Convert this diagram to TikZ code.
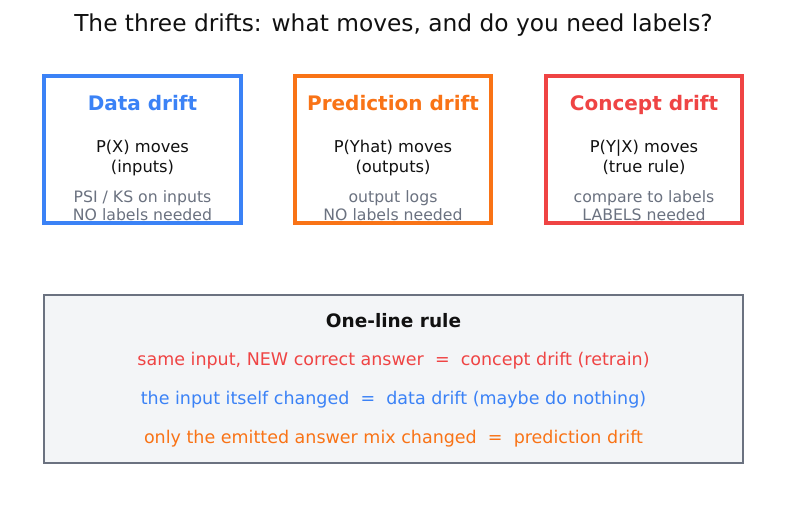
\documentclass[tikz,border=0pt]{standalone}
\usepackage{fontspec}
\setmainfont{DejaVu Sans}
\definecolor{cblue}{HTML}{3B82F6}
\definecolor{corange}{HTML}{F97316}
\definecolor{cred}{HTML}{EF4444}
\definecolor{cgray}{HTML}{6B7280}
\definecolor{cfill}{HTML}{F3F5F7}
\definecolor{ctext}{HTML}{111111}
\begin{document}
\begin{tikzpicture}[x=1pt,y=-1pt,
  every node/.style={text height=0.73em,text depth=0pt,inner sep=0pt},
  drbox/.style={draw=#1,line width=3.2pt,fill=white},
  boxtitle/.style={font=\bfseries\fontsize{20}{22}\selectfont,anchor=center},
  mainline/.style={font=\fontsize{16.3}{18}\selectfont,text=ctext,anchor=center},
  subline/.style={font=\fontsize{15.7}{17}\selectfont,text=cgray,anchor=center},
  ruleline/.style={font=\fontsize{17.5}{19}\selectfont,anchor=center}]
\useasboundingbox (0,0) rectangle (787,510);
\node[font=\fontsize{23.3}{26}\selectfont,text=ctext] (title) at (393.5,28) {The three drifts: what moves, and do you need labels?};
% boxes
\draw[drbox=cblue] (44,76) rectangle (241,223);
\draw[drbox=corange] (295,76) rectangle (491,223);
\draw[drbox=cred] (546,76) rectangle (742,223);
\node[boxtitle,text=cblue] (t1) at (142.5,107) {Data drift};
\node[boxtitle,text=corange] (t2) at (393,107) {Prediction drift};
\node[boxtitle,text=cred] (t3) at (644,107) {Concept drift};
\node[mainline] (m1a) at (142.5,149) {P(X) moves};
\node[mainline] (m1b) at (142.5,169) {(inputs)};
\node[mainline] (m2a) at (393,149) {P(Yhat) moves};
\node[mainline] (m2b) at (393,169) {(outputs)};
\node[mainline] (m3a) at (644,149) {P(Y|X) moves};
\node[mainline] (m3b) at (644,169) {(true rule)};
\node[subline] (s1a) at (142.5,199) {PSI / KS on inputs};
\node[subline] (s1b) at (142.5,217) {NO labels needed};
\node[subline] (s2a) at (393,199) {output logs};
\node[subline] (s2b) at (393,217) {NO labels needed};
\node[subline] (s3a) at (644,199) {compare to labels};
\node[subline] (s3b) at (644,217) {LABELS needed};
% rule box
\draw[draw=cgray,fill=cfill,line width=1.4pt] (44,295) rectangle (743,463);
\node[font=\bfseries\fontsize{18.5}{20}\selectfont,text=ctext] (rt) at (393.5,324) {One-line rule};
\node[ruleline,text=cred] (r1) at (393.5,362) {same input, NEW correct answer \ = \ concept drift (retrain)};
\node[ruleline,text=cblue] (r2) at (393.5,401) {the input itself changed \ = \ data drift (maybe do nothing)};
\node[ruleline,text=corange] (r3) at (393.5,440) {only the emitted answer mix changed \ = \ prediction drift};
\end{tikzpicture}
\end{document}
